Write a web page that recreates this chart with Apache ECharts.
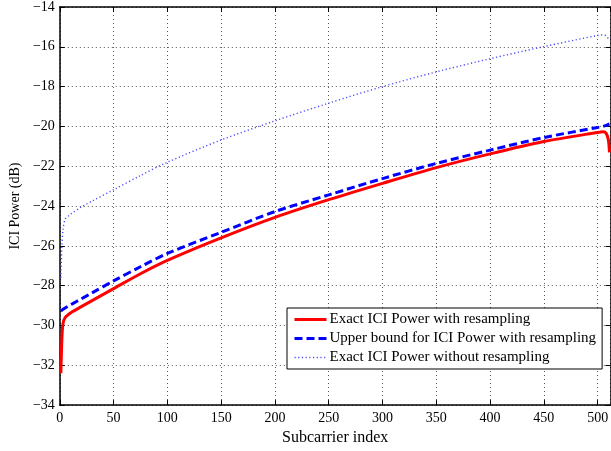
<!DOCTYPE html>
<html>
<head>
<meta charset="utf-8">
<script src="https://cdn.jsdelivr.net/npm/echarts@6/dist/echarts.min.js"></script>
<style>
  html, body { margin: 0; padding: 0; background: #fff; }
  #chart { width: 611px; height: 451px; }
</style>
</head>
<body>
<div id="chart"></div>
<script>
// Subcarrier indices at which the ICI power curves are sampled
const subcarrier = [1, 2, 3, 5, 8, 12, 20, 30, 50, 75, 100, 150, 200, 250, 300, 350, 400, 450, 500, 505, 508, 510, 511];

// ICI power (dB) for each scheme
const exactWithResampling = [-32.4, -30.6, -29.9, -29.6, -29.45, -29.3, -29.05, -28.75, -28.15, -27.4, -26.73, -25.6, -24.57, -23.68, -22.86, -22.07, -21.38, -20.76, -20.3, -20.27, -20.35, -20.7, -21.3];
const upperBoundWithResampling = [-29.27, -29.23, -29.19, -29.12, -29.02, -28.9, -28.66, -28.36, -27.76, -27.05, -26.38, -25.32, -24.28, -23.44, -22.62, -21.86, -21.19, -20.56, -20.05, -20.0, -19.95, -19.9, -19.88];
const exactWithoutResampling = [-27.6, -26.0, -25.2, -24.65, -24.5, -24.33, -24.05, -23.75, -23.18, -22.47, -21.8, -20.68, -19.72, -18.83, -18.0, -17.26, -16.6, -15.99, -15.43, -15.4, -15.45, -15.6, -15.7];

const seriesNames = [
  'Exact ICI Power with resampling',
  'Upper bound for ICI Power with resampling',
  'Exact ICI Power without resampling'
];

// Axis ranges and tick spacing
const xMin = 0, xMax = 512, xStep = 50;
const yMin = -34, yMax = -14, yStep = 2;

const pairs = ys => subcarrier.map((k, i) => [k, ys[i]]);
const fmtNum = v => String(v).replace('-', '\u2212');
const serif = 'Liberation Serif';

const gridLine = { show: true, lineStyle: { color: '#555', type: [1, 3], width: 1 } };
const boxLine = { show: true, onZero: false, lineStyle: { color: '#000', width: 1.5 } };
const tick = { show: true, inside: true, length: 5, lineStyle: { color: '#000', width: 1 } };

const chart = echarts.init(document.getElementById('chart'), null, { renderer: 'canvas' });
chart.setOption({
  animation: false,
  backgroundColor: '#fff',
  grid: { left: 54, top: 6.5, width: 558, height: 403.5, containLabel: false },
  xAxis: [
    {
      type: 'value', min: xMin, max: xMax, interval: xStep, position: 'bottom',
      name: 'Subcarrier index', nameLocation: 'middle', nameGap: 20,
      nameTextStyle: { fontFamily: serif, fontSize: 16, color: '#000' },
      axisLine: boxLine, axisTick: tick, splitLine: gridLine,
      axisLabel: {
        fontFamily: serif, fontSize: 14, color: '#000', margin: 6,
        showMaxLabel: false,
        formatter: v => (v % xStep === 0 ? fmtNum(v) : '')
      }
    },
    {
      type: 'value', min: xMin, max: xMax, interval: xStep, position: 'top',
      axisLine: boxLine, axisTick: tick, splitLine: { show: false },
      axisLabel: { show: false }
    }
  ],
  yAxis: [
    {
      type: 'value', min: yMin, max: yMax, interval: yStep, position: 'left',
      name: 'ICI Power (dB)', nameLocation: 'middle', nameGap: 36,
      nameTextStyle: { fontFamily: serif, fontSize: 14, color: '#000' },
      axisLine: boxLine, axisTick: tick, splitLine: gridLine,
      axisLabel: { fontFamily: serif, fontSize: 14, color: '#000', margin: 5, formatter: fmtNum }
    },
    {
      type: 'value', min: yMin, max: yMax, interval: yStep, position: 'right',
      axisLine: boxLine, axisTick: tick, splitLine: { show: false },
      axisLabel: { show: false }
    }
  ],
  legend: {
    orient: 'vertical', left: 287, top: 308,
    data: seriesNames,
    itemWidth: 32, itemHeight: 15, itemGap: 4,
    padding: [4, 6, 4, 6],
    backgroundColor: '#fff', borderColor: '#000', borderWidth: 1,
    itemStyle: { opacity: 0 },
    lineStyle: { width: 'inherit' },
    textStyle: { fontFamily: serif, fontSize: 15, color: '#000', padding: [0, 0, 0, -2] }
  },
  series: [
    {
      name: seriesNames[0], type: 'line', data: pairs(exactWithResampling),
      symbol: 'none', smooth: 0.3, z: 3,
      lineStyle: { color: '#ff0000', width: 3, type: 'solid' },
      itemStyle: { color: '#ff0000' }
    },
    {
      name: seriesNames[1], type: 'line', data: pairs(upperBoundWithResampling),
      symbol: 'none', smooth: 0.3, z: 4,
      lineStyle: { color: '#0000ff', width: 3, type: [8, 4] },
      itemStyle: { color: '#0000ff' }
    },
    {
      name: seriesNames[2], type: 'line', data: pairs(exactWithoutResampling),
      symbol: 'none', smooth: 0.3, z: 2,
      lineStyle: { color: '#4a4aff', width: 1.4, type: [1.2, 2.5] },
      itemStyle: { color: '#4a4aff' }
    }
  ]
});
</script>
</body>
</html>
